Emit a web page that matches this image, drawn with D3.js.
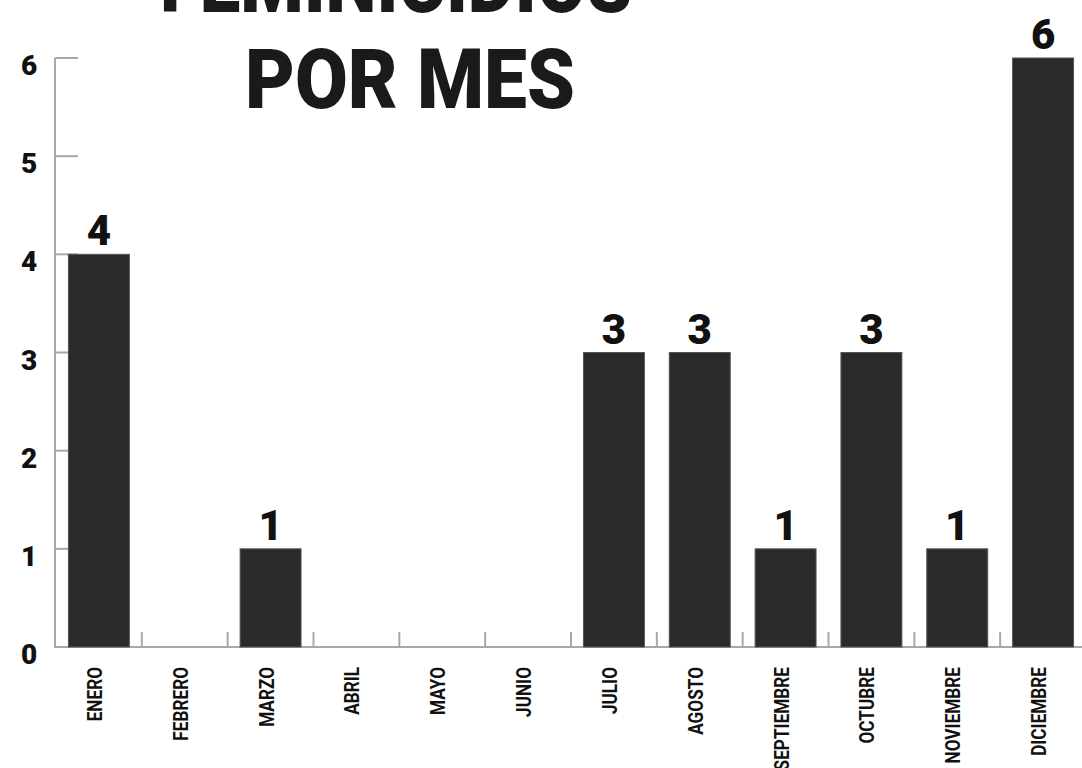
<!DOCTYPE html>
<html lang="es">
<head>
    <meta charset="UTF-8">
    <title>Feminicidios por mes</title>
    <script src="https://cdn.jsdelivr.net/npm/d3@7"></script>
    <style>
        body { margin: 0; background: #fff; }
        svg { display: block; font-family: Roboto, "DejaVu Sans", sans-serif; }
        .axis line, .axis path { stroke: #a8a8a8; stroke-width: 2; }
    </style>
</head>
<body>
<svg id="chart" width="1082" height="768"></svg>
<script>
    // data
    let months = ["ENERO", "FEBRERO", "MARZO", "ABRIL", "MAYO", "JUNIO",
        "JULIO", "AGOSTO", "SEPTIEMBRE", "OCTUBRE", "NOVIEMBRE", "DICIEMBRE"];
    let counts = [4, 0, 1, 0, 0, 0, 3, 3, 1, 3, 1, 6];
    let yTicks = [0, 1, 2, 3, 4, 5, 6];
    let titleLines = ["FEMINICIDIOS", "POR MES"];

    let svg = d3.select("#chart");

    let x = d3.scaleBand()
        .domain(months)
        .range([56, 1086])
        .paddingInner(0.29)
        .paddingOuter(0.145);

    let y = d3.scaleLinear()
        .domain([0, 6])
        .range([647, 58]);

    // y axis line + ticks (under the bars)
    let gy = svg.append("g").attr("class", "axis");
    gy.append("line")
        .attr("x1", 55).attr("x2", 55)
        .attr("y1", y(6)).attr("y2", y(0) + 1);
    gy.selectAll("line.tick")
        .data(yTicks.filter(d => d > 0))
        .join("line")
        .attr("class", "tick")
        .attr("x1", 55).attr("x2", 78)
        .attr("y1", d => y(d)).attr("y2", d => y(d));

    // x axis baseline + separators between months
    let gx = svg.append("g").attr("class", "axis");
    gx.append("line")
        .attr("x1", 55).attr("x2", 1082)
        .attr("y1", y(0)).attr("y2", y(0));
    gx.selectAll("line.tick")
        .data(months.slice(0, -1))
        .join("line")
        .attr("class", "tick")
        .attr("x1", d => x(d) + x.bandwidth() + x.step() * x.paddingInner() / 2)
        .attr("x2", d => x(d) + x.bandwidth() + x.step() * x.paddingInner() / 2)
        .attr("y1", y(0)).attr("y2", y(0) - 15);

    // bars
    let data = months.map((m, i) => ({month: m, value: counts[i]}));
    svg.selectAll("rect.bar")
        .data(data.filter(d => d.value > 0))
        .join("rect")
        .attr("class", "bar")
        .attr("x", d => x(d.month))
        .attr("width", x.bandwidth())
        .attr("y", d => y(d.value))
        .attr("height", d => y(0) - y(d.value))
        .attr("fill", "#2a2a2a")
        .attr("stroke", "#555")
        .attr("stroke-width", 1);

    // value labels
    svg.selectAll("text.value")
        .data(data.filter(d => d.value > 0))
        .join("text")
        .attr("class", "value")
        .attr("x", d => x(d.month) + x.bandwidth() / 2)
        .attr("y", d => y(d.value) - 9)
        .attr("text-anchor", "middle")
        .attr("font-size", 42)
        .attr("font-weight", 900)
        .attr("fill", "#111")
        .text(d => d.value);

    // y tick labels
    svg.selectAll("text.ylab")
        .data(yTicks)
        .join("text")
        .attr("class", "ylab")
        .attr("x", 29)
        .attr("y", d => y(d) + 17)
        .attr("text-anchor", "middle")
        .attr("font-size", 28)
        .attr("font-weight", 900)
        .attr("fill", "#111")
        .text(d => d);

    // month labels, rotated and a bit condensed
    svg.selectAll("text.xlab")
        .data(months)
        .join("text")
        .attr("class", "xlab")
        .attr("transform", d => `translate(${x(d) + x.bandwidth() / 2 - 4},667) rotate(-90) scale(0.86,1)`)
        .attr("dy", "0.35em")
        .attr("text-anchor", "end")
        .attr("font-size", 20)
        .attr("font-weight", 700)
        .attr("fill", "#111")
        .text(d => d);

    // title
    svg.append("text")
        .attr("x", 396).attr("y", 12)
        .attr("text-anchor", "middle")
        .attr("font-size", 84)
        .attr("font-weight", 900)
        .attr("fill", "#1a1a1a")
        .attr("textLength", 472)
        .attr("lengthAdjust", "spacingAndGlyphs")
        .text(titleLines[0]);
    svg.append("text")
        .attr("x", 410).attr("y", 108)
        .attr("text-anchor", "middle")
        .attr("font-size", 84)
        .attr("font-weight", 900)
        .attr("fill", "#1a1a1a")
        .attr("textLength", 330)
        .attr("lengthAdjust", "spacingAndGlyphs")
        .text(titleLines[1]);
</script>
</body>
</html>
